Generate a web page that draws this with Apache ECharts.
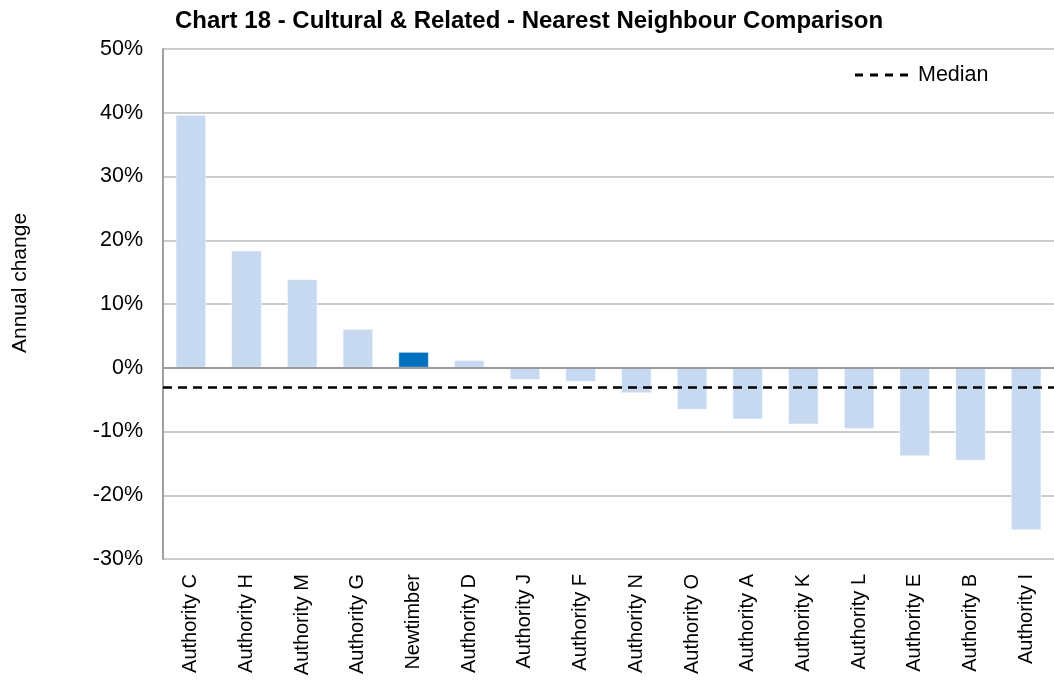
<!DOCTYPE html>
<html>
<head>
<meta charset="utf-8">
<title>Chart 18 - Cultural & Related</title>
<script src="https://cdn.jsdelivr.net/npm/echarts@6/dist/echarts.min.js"></script>
<style>
  html, body { margin: 0; padding: 0; background: #fff; }
  #chart { width: 1054px; height: 684px; }
</style>
</head>
<body>
<div id="chart"></div>
<script>
// Authorities, ordered by annual change
const categories = [
  'Authority C', 'Authority H', 'Authority M', 'Authority G', 'Newtimber',
  'Authority D', 'Authority J', 'Authority F', 'Authority N', 'Authority O',
  'Authority A', 'Authority K', 'Authority L', 'Authority E', 'Authority B',
  'Authority I'
];
// Annual change, percent
const annualChange = [
  39.7, 18.4, 13.9, 6.1, 2.5,
  1.2, -1.9, -2.2, -4.0, -6.6,
  -8.1, -8.9, -9.6, -13.9, -14.6,
  -25.5
];
const highlighted = 'Newtimber';
const medianValue = -3.1;
const yTicks = { min: -30, max: 50, step: 10 };

const FONT = "'Liberation Sans', Arial, sans-serif";
const BAR = '#C6D9F1';
const BAR_HI = '#0070C0';
const DASH = [9, 6];
// four short dashes for the legend key
const DASH_ICON = 'path://M0,0h8v3h-8z M15,0h8v3h-8z M30,0h8v3h-8z M45,0h8v3h-8z';

const chart = echarts.init(document.getElementById('chart'), null, { renderer: 'canvas' });

chart.setOption({
  backgroundColor: '#ffffff',
  animation: false,
  textStyle: { fontFamily: FONT },
  title: {
    text: 'Chart 18 - Cultural & Related - Nearest Neighbour Comparison',
    left: 524,
    textAlign: 'center',
    top: 4,
    textStyle: { fontFamily: FONT, fontSize: 24, fontWeight: 'bold', color: '#000' }
  },
  legend: {
    data: [{ name: 'Median', icon: DASH_ICON }],
    left: 850,
    top: 59,
    itemWidth: 53,
    itemHeight: 3,
    itemGap: 8,
    itemStyle: { color: '#000' },
    textStyle: { fontFamily: FONT, fontSize: 21.5, color: '#000', padding: [0, 0, 0, 5] }
  },
  graphic: [{
    type: 'text',
    x: 20,
    y: 283,
    rotation: Math.PI / 2,
    style: {
      text: 'Annual change',
      font: '21px ' + FONT,
      fill: '#000',
      align: 'center',
      verticalAlign: 'middle'
    }
  }],
  grid: { left: 163, top: 49, width: 901, height: 510, containLabel: false },
  xAxis: {
    type: 'category',
    data: categories,
    axisLine: { show: false },
    axisTick: { show: false },
    axisLabel: {
      rotate: 90,
      margin: 15,
      fontSize: 20,
      color: '#000',
      fontFamily: FONT,
      interval: 0
    }
  },
  yAxis: {
    type: 'value',
    min: yTicks.min,
    max: yTicks.max,
    interval: yTicks.step,
    axisLine: { show: true, lineStyle: { color: '#a0a0a0', width: 2 } },
    axisTick: { show: false },
    axisLabel: {
      formatter: '{value}%',
      fontSize: 21.5,
      color: '#000',
      margin: 20,
      fontFamily: FONT
    },
    splitLine: { show: true, lineStyle: { color: '#cccccc', width: 2 } }
  },
  series: [
    {
      name: 'Annual change',
      type: 'bar',
      barCategoryGap: '45%',
      data: annualChange.map((v, i) => ({
        value: v,
        itemStyle: { color: categories[i] === highlighted ? BAR_HI : BAR }
      })),
      itemStyle: { borderColor: 'rgba(255,255,255,0.5)', borderWidth: 1 },
      markLine: {
        silent: true,
        symbol: ['none', 'none'],
        label: { show: false },
        lineStyle: { color: '#9a9a9a', width: 2, type: 'solid' },
        data: [{ yAxis: 0 }],
        z: 3
      }
    },
    {
      name: 'Median',
      type: 'line',
      data: [],
      symbol: 'none',
      lineStyle: { color: '#000', width: 2.5, type: DASH },
      itemStyle: { color: '#000' },
      markLine: {
        silent: true,
        symbol: ['none', 'none'],
        label: { show: false },
        lineStyle: { color: '#000', width: 2.5, type: DASH },
        data: [{ yAxis: medianValue }]
      }
    }
  ]
});
</script>
</body>
</html>
